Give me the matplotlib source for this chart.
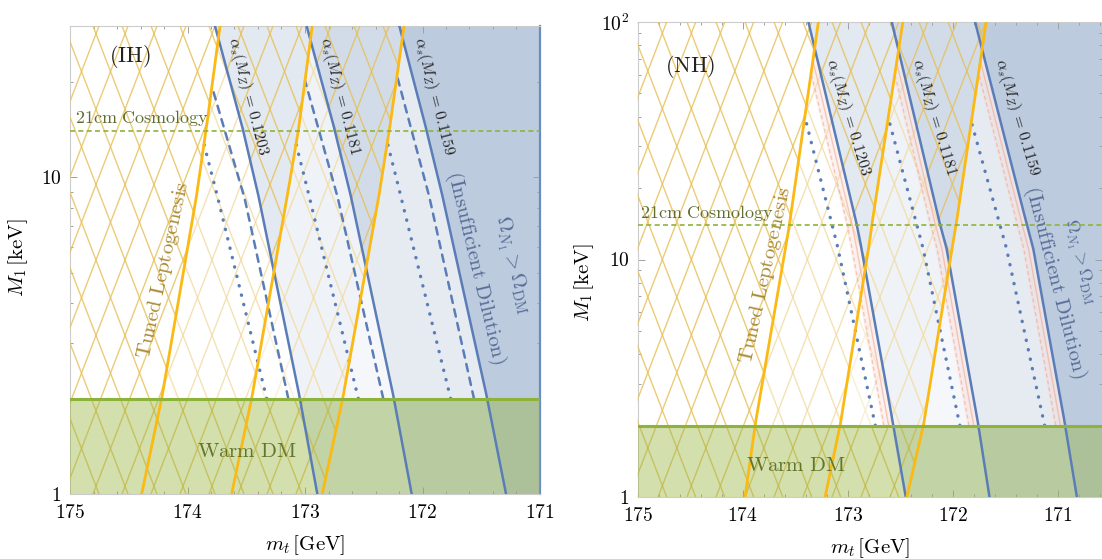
import numpy as np
import matplotlib
matplotlib.use("Agg")
import matplotlib.pyplot as plt
from matplotlib.collections import LineCollection
from matplotlib.patches import Polygon
from matplotlib.ticker import FixedLocator, FixedFormatter, LogLocator, NullFormatter, MultipleLocator

plt.rcParams['mathtext.fontset'] = 'cm'
plt.rcParams['font.family'] = 'serif'
plt.rcParams['font.serif'] = ['DejaVu Serif']

## values: mt [GeV] at a few M1 [keV] #######################################
alpha_s = ["0.1203", "0.1181", "0.1159"]

# inverted hierarchy
ih_m = [1, 2, 8.5, 14, 30]
ih_blue = [[172.895, 173.043, 173.389, 173.525, 173.766],
           [172.092, 172.243, 172.603, 172.745, 172.986],
           [171.289, 171.449, 171.823, 171.964, 172.197]]
ih_yellow = [[174.390, 174.220, 173.928, 173.843, 173.723],
             [173.624, 173.454, 173.156, 173.057, 172.938],
             [172.853, 172.679, 172.376, 172.283, 172.157]]
ih_lim_m = [2, 8.5, 30]
ih_dashed = [[173.142, 173.511, 173.943],
             [172.334, 172.717, 173.130],
             [171.562, 171.936, 172.330]]
ih_dotted = [[173.326, 173.738, 174.120],
             [172.546, 172.957, 173.330],
             [171.760, 172.177, 172.550]]

# normal hierarchy
nh_m = [1, 2, 11, 14, 100]
nh_blue = [[172.448, 172.566, 172.867, 172.914, 173.375],
           [171.651, 171.756, 172.057, 172.121, 172.581],
           [170.819, 170.930, 171.232, 171.295, 171.788]]
nh_yellow = [[173.978, 173.883, 173.595, 173.556, 173.280],
             [173.216, 173.073, 172.804, 172.771, 172.476],
             [172.438, 172.280, 172.010, 171.969, 171.683]]
nh_lim_m = [2, 11, 37, 100]
nh_dotted = [[172.738, 173.090, 173.390, 173.640],
             [171.933, 172.280, 172.597, 172.860],
             [171.126, 171.486, 171.817, 172.090]]

warm_dm = 2.0      # keV
cosmo_21cm = 14.0  # keV

BLUE = '#5a7db8'
BLUE_FILL = (80/255., 115/255., 170/255.)
YELLOW = '#fbb913'
HATCH = '#e6bf55'
GREEN = '#8db33a'
GREEN_FILL = (0.59, 0.71, 0.24)
RED = '#f0a48c'
PINK = '#f8d2c8'


def interpLine(m_pts, mt_pts, m):
	lp = np.log10(m_pts)
	lm = np.log10(m)
	mt_pts = np.asarray(mt_pts, dtype=float)
	out = np.interp(lm, lp, mt_pts)
	loSlope = (mt_pts[1] - mt_pts[0]) / (lp[1] - lp[0])
	hiSlope = (mt_pts[-1] - mt_pts[-2]) / (lp[-1] - lp[-2])
	out = np.where(lm < lp[0], mt_pts[0] + (lm - lp[0]) * loSlope, out)
	out = np.where(lm > lp[-1], mt_pts[-1] + (lm - lp[-1]) * hiSlope, out)
	return out


def addHatch(ax, clip, wPx, hPx, spacing=29.0, slope=2.6, alpha=0.8):
	# diamond cross-hatch built from two families of steep lines
	segs = []
	run = hPx / slope
	c = -run
	while c < wPx + run:
		segs.append([(c / wPx, 0), ((c + run) / wPx, 1)])
		segs.append([((c + run) / wPx, 0), (c / wPx, 1)])
		c += spacing
	lc = LineCollection(segs, colors=HATCH, linewidths=1.0, alpha=alpha,
						transform=ax.transAxes, zorder=3)
	lc.set_clip_path(clip)
	ax.add_collection(lc, autolim=False)


def drawPanel(ax, xlim, ylim, m_pts, blue, yellow, lim_m, lim_lines, lim_style, redBand, wPx, hPx):
	m = np.unique(np.concatenate([np.logspace(0, np.log10(ylim[1]), 600), [warm_dm]]))
	xFar = xlim[1] - 1.0
	fillAlpha = [0.155, 0.11, 0.16]

	blues = [interpLine(m_pts, b, m) for b in blue]
	yellows = [interpLine(m_pts, y, m) for y in yellow]

	# insufficient dilution regions
	for k in range(3):
		ax.fill_betweenx(m, blues[k], xFar, color=BLUE_FILL, alpha=fillAlpha[k], lw=0, zorder=1)

	# tuned leptogenesis hatch, left of the last yellow curve
	y3 = np.clip(yellows[2], xlim[1], xlim[0])
	verts = [(xlim[0], ylim[0]), (y3[0], ylim[0])] + list(zip(y3, m)) + [(y3[-1], ylim[1]), (xlim[0], ylim[1])]
	clip = Polygon(verts, closed=True, transform=ax.transData)
	addHatch(ax, clip, wPx, hPx)

	# allowed wedges between yellow and blue curves
	for k in range(3):
		mask = (blues[k] < yellows[k]) & (m >= warm_dm)
		ax.fill_betweenx(m, blues[k], yellows[k], where=mask, interpolate=True,
						 color='white', alpha=0.45, lw=0, zorder=4)

	# warm dark matter bound
	ax.axhspan(ylim[0], warm_dm, facecolor=GREEN_FILL, alpha=0.42, lw=0, zorder=5)
	ax.axhline(warm_dm, color=GREEN, lw=2.2, zorder=8)
	ax.axhline(cosmo_21cm, color=GREEN, lw=1.2, ls=(0, (3.0, 2.0)), zorder=8)

	for k in range(3):
		if redBand:
			mask = (m >= warm_dm) & (blues[k] <= yellows[k])
			edge = np.minimum(blues[k] + 0.11, yellows[k])
			ax.fill_betweenx(m[mask], blues[k][mask], edge[mask], color=PINK, alpha=0.3, lw=0, zorder=5)
			for off, ls in [(0.045, '-'), (0.09, (0, (3, 2)))]:
				mk = mask & (blues[k] + off <= yellows[k])
				ax.plot(blues[k][mk] + off, m[mk], color=RED, lw=1.0, ls=ls, alpha=0.55, zorder=6)
		for line, ls in zip(lim_lines, lim_style):
			mt = interpLine(lim_m, line[k], m)
			mask = (m >= warm_dm) & (mt <= yellows[k])
			ax.plot(mt[mask], m[mask], color=BLUE, lw=lw_lim[ls], ls=ls, dash_capstyle='round', zorder=7)
		ax.plot(blues[k], m, color=BLUE, lw=1.8, zorder=7)
		ax.plot(yellows[k], m, color=YELLOW, lw=2.0, zorder=7)

	ax.set_xscale('linear')
	ax.set_yscale('log')
	ax.set_xlim(xlim)
	ax.set_ylim(ylim)

	ax.xaxis.set_major_locator(FixedLocator([175, 174, 173, 172, 171]))
	ax.xaxis.set_major_formatter(FixedFormatter([r'$175$', r'$174$', r'$173$', r'$172$', r'$171$']))
	ax.xaxis.set_minor_locator(MultipleLocator(0.2))
	ax.yaxis.set_minor_locator(LogLocator(base=10, subs=np.arange(2, 10)))
	ax.yaxis.set_minor_formatter(NullFormatter())
	ax.tick_params(which='both', direction='in', top=True, right=True, color='#a0a0a0',
				   labelsize=14, width=0.7)
	ax.tick_params(which='major', length=5, pad=6)
	ax.tick_params(axis='x', which='major', pad=7)
	ax.tick_params(which='minor', length=2.5)
	for s in ax.spines.values():
		s.set_color('#cccccc')
		s.set_linewidth(0.8)


DASHED = (0, (3.0, 2.6))
DOTTED = (0, (0.1, 2.8))
lw_lim = {DASHED: 1.8, DOTTED: 2.4}

fig = plt.figure(figsize=(11.02, 5.59), dpi=100)
ax1 = fig.add_axes([70/1102., 65/559., 470/1102., 468/559.])
ax2 = fig.add_axes([637.7/1102., 62/559., 464.3/1102., 475/559.])

drawPanel(ax1, (175, 171), (1, 30), ih_m, ih_blue, ih_yellow, ih_lim_m,
		  [ih_dashed, ih_dotted], [DASHED, DOTTED], False, 470, 468)
drawPanel(ax2, (175, 170.58), (1, 100), nh_m, nh_blue, nh_yellow, nh_lim_m,
		  [nh_dotted], [DOTTED], True, 464.3, 475)

ax1.yaxis.set_major_locator(FixedLocator([1, 10]))
ax1.yaxis.set_major_formatter(FixedFormatter([r'$1$', r'$10$']))
ax2.yaxis.set_major_locator(FixedLocator([1, 10, 100]))
ax2.yaxis.set_major_formatter(FixedFormatter([r'$1$', r'$10$', r'$10^2$']))
ax1.spines['right'].set_color('#6a8cc0')
ax1.spines['right'].set_linewidth(1.6)

## annotations ################################################################
OLIVE = '#5f6e30'
GOLD = '#a98a33'
SLATE = '#566c98'


def annotate(ax, x, y, s, size, color='#222222', rot=0, ha='center', va='center'):
	ax.text(x, y, s, transform=ax.transAxes, fontsize=size, color=color, rotation=rot,
			ha=ha, va=va, rotation_mode='anchor', zorder=10)


annotate(ax1, 0.128, 0.934, r'$\mathrm{(IH)}$', 16)
annotate(ax2, 0.113, 0.907, r'$\mathrm{(NH)}$', 16)

annotate(ax1, 0.01, 0.782, r'$\mathrm{21cm\ Cosmology}$', 13, OLIVE, ha='left', va='bottom')
annotate(ax2, 0.004, 0.577, r'$\mathrm{21cm\ Cosmology}$', 13, OLIVE, ha='left', va='bottom')

annotate(ax1, 0.20, 0.479, r'$\mathrm{Tuned\ Leptogenesis}$', 15, GOLD, rot=77.5)
annotate(ax2, 0.276, 0.467, r'$\mathrm{Tuned\ Leptogenesis}$', 15, GOLD, rot=77.5)

for fx, a in zip([0.378, 0.574, 0.774], alpha_s):
	annotate(ax1, fx, 0.850, r'$\alpha_s(M_Z)\,=\,%s$' % a, 11.5, rot=-75.5)
for fx, a in zip([0.452, 0.637, 0.818], alpha_s):
	annotate(ax2, fx, 0.800, r'$\alpha_s(M_Z)\,=\,%s$' % a, 11.5, rot=-73.3)

annotate(ax1, 0.864, 0.483, r'$\mathrm{(Insufficient\ Dilution)}$', 15, SLATE, rot=-76.6)
annotate(ax1, 0.940, 0.489, r'$\Omega_{N_1} > \Omega_{\mathrm{DM}}$', 15, SLATE, rot=-76.6)
annotate(ax2, 0.899, 0.453, r'$\mathrm{(Insufficient\ Dilution)}$', 15, SLATE, rot=-75.8)
annotate(ax2, 0.950, 0.495, r'$\Omega_{N_1} > \Omega_{\mathrm{DM}}$', 13, SLATE, rot=-75.8)

annotate(ax1, 0.377, 0.090, r'$\mathrm{Warm\ DM}$', 15, '#62762a')
annotate(ax2, 0.341, 0.067, r'$\mathrm{Warm\ DM}$', 15, '#62762a')

fig.text(305/1102., 1 - 545/559., r'$m_t\,[\mathrm{GeV}]$', fontsize=15, ha='center', va='center')
fig.text(870/1102., 1 - 548/559., r'$m_t\,[\mathrm{GeV}]$', fontsize=15, ha='center', va='center')
fig.text(18/1102., 1 - 258/559., r'$M_1\,[\mathrm{keV}]$', fontsize=15, ha='center', va='center', rotation=90)
fig.text(584/1102., 1 - 283/559., r'$M_1\,[\mathrm{keV}]$', fontsize=15, ha='center', va='center', rotation=90)

fig.savefig('out.png', dpi=100)
